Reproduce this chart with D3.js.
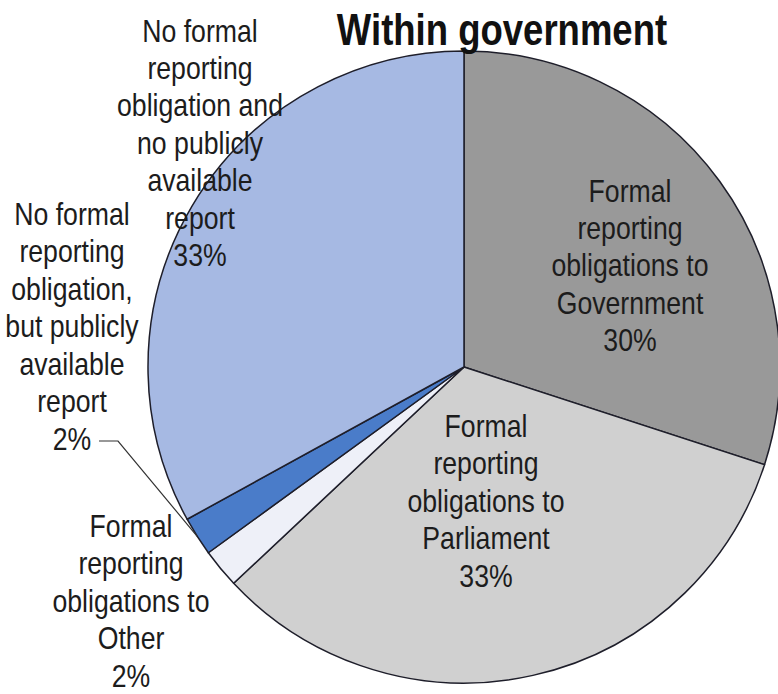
<!DOCTYPE html>
<html>
<head>
<meta charset="utf-8">
<script src="https://cdn.jsdelivr.net/npm/d3@7/dist/d3.min.js"></script>
<style>
  html, body { margin: 0; padding: 0; background: #ffffff; }
  svg { display: block; }
</style>
</head>
<body>
<svg id="chart" width="778" height="694"></svg>
<script>
// Reporting arrangements within government (share of respondents, %)
const categories = [
  "Formal reporting obligations to Government",
  "Formal reporting obligations to Parliament",
  "Formal reporting obligations to Other",
  "No formal reporting obligation, but publicly available report",
  "No formal reporting obligation and no publicly available report"
];
const values = [30, 33, 2, 2, 33];
const colors = ["#999999", "#d0d0d0", "#eef0f8", "#4a7cc9", "#a6b9e3"];

// Wrapped label text (value line appended from values)
const labelLines = [
  ["Formal", "reporting", "obligations to", "Government"],
  ["Formal", "reporting", "obligations to", "Parliament"],
  ["Formal", "reporting", "obligations to", "Other"],
  ["No formal", "reporting", "obligation,", "but publicly", "available", "report"],
  ["No formal", "reporting", "obligation and", "no publicly", "available", "report"]
];
const title = "Within government";

const svg = d3.select("#chart");
const cx = 464, cy = 367, radius = 316;
// Narrow sans look: Arial-metric face compressed horizontally
const fontFamily = "'Liberation Sans', Arial, sans-serif";
const narrowLabel = 0.86;
const narrowTitle = 0.83;
const lineHeight = 37.5;

const pie = d3.pie().sort(null).value(d => d)(values);
const arc = d3.arc().innerRadius(0).outerRadius(radius);

const g = svg.append("g").attr("transform", `translate(${cx},${cy})`);

g.selectAll("path.slice")
  .data(pie)
  .join("path")
  .attr("class", "slice")
  .attr("d", arc)
  .attr("fill", (d, i) => colors[i])
  .attr("stroke", "#1e1e2a")
  .attr("stroke-width", 1.5)
  .attr("stroke-linejoin", "round");

// Label anchors: centre x and first baseline for each label block
const labelAnchors = [
  { x: 630, y: 201.5 },
  { x: 486, y: 437 },
  { x: 131, y: 537 },
  { x: 72,  y: 225 },
  { x: 200, y: 41.5 }
];

// Leader line for the small "publicly available" slice
{
  const d = pie[3];
  const mid = (d.startAngle + d.endAngle) / 2;
  const ex = cx + radius * Math.sin(mid);
  const ey = cy - radius * Math.cos(mid);
  const a = labelAnchors[3];
  const ly = a.y + lineHeight * labelLines[3].length - 9;
  svg.append("path")
    .attr("d", `M${a.x + 27},${ly} L${a.x + 46},${ly} L${ex},${ey}`)
    .attr("fill", "none")
    .attr("stroke", "#333333")
    .attr("stroke-width", 1.2);
}

labelLines.forEach((lines, i) => {
  const a = labelAnchors[i];
  const all = lines.concat([Math.round(values[i]) + "%"]);
  const t = svg.append("g")
    .attr("transform", `translate(${a.x},${a.y}) scale(${narrowLabel},1)`)
    .append("text")
    .attr("text-anchor", "middle")
    .attr("font-family", fontFamily)
    .attr("font-size", 31)
    .attr("fill", "#1c1c1c");
  all.forEach((s, k) => {
    t.append("tspan")
      .attr("x", 0)
      .attr("y", k * lineHeight)
      .text(s);
  });
});

svg.append("g")
  .attr("transform", `translate(502,45) scale(${narrowTitle},1)`)
  .append("text")
  .attr("text-anchor", "middle")
  .attr("font-family", fontFamily)
  .attr("font-weight", "bold")
  .attr("font-size", 44)
  .attr("fill", "#111111")
  .text(title);
</script>
</body>
</html>
